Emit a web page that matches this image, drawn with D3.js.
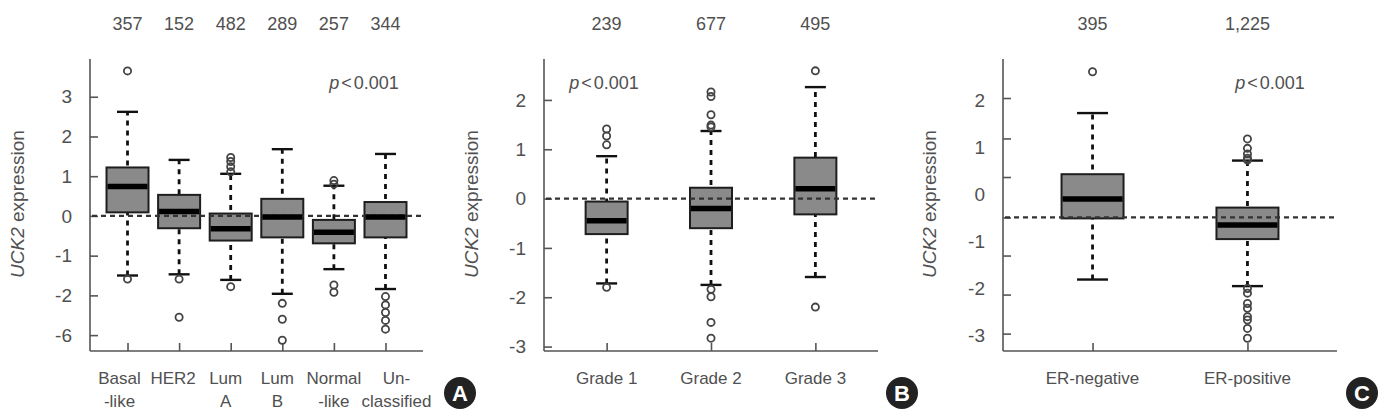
<!DOCTYPE html>
<html>
<head>
<meta charset="utf-8">
<script src="https://cdn.jsdelivr.net/npm/d3@7"></script>
<style>
  body { margin: 0; background: #fff; }
  text { font-family: "Liberation Sans", Arial, sans-serif; fill: #505050; }
</style>
</head>
<body>
<div id="chart"></div>
<script>
// panel A: PAM50 subtypes
var groupsA = [["Basal", "-like"], ["HER2"], ["Lum", "A"], ["Lum", "B"], ["Normal", "-like"], ["Un-", "classified"]];
var countsA = ["357", "152", "482", "289", "257", "344"];
// [low whisker, q1, median, q3, high whisker]
var statsA = [
  [-1.50, 0.09, 0.74, 1.22, 2.62],
  [-1.47, -0.31, 0.11, 0.53, 1.41],
  [-1.61, -0.62, -0.32, 0.06, 1.06],
  [-1.96, -0.54, -0.03, 0.43, 1.68],
  [-1.34, -0.69, -0.41, -0.10, 0.76],
  [-1.84, -0.54, -0.03, 0.35, 1.56]
];
var outliersA = [
  [3.65, -1.59],
  [-1.59, -2.55],
  [1.47, 1.37, 1.24, 1.11, -1.78],
  [-2.20, -2.60, -3.13],
  [0.89, 0.80, -1.74, -1.92],
  [-2.03, -2.24, -2.43, -2.63, -2.85]
];
var yTicksA = [3, 2, 1, 0, -1, -2, -3];
var yLabelsA = ["3", "2", "1", "0", "-1", "-2", "-6"];

// panel B: histological grade
var groupsB = [["Grade 1"], ["Grade 2"], ["Grade 3"]];
var countsB = ["239", "677", "495"];
var statsB = [
  [-1.72, -0.72, -0.45, -0.06, 0.86],
  [-1.75, -0.60, -0.20, 0.22, 1.37],
  [-1.59, -0.32, 0.20, 0.83, 2.26]
];
var outliersB = [
  [1.41, 1.27, 1.09, -1.80],
  [2.16, 2.07, 1.70, 1.49, 1.45, -1.84, -1.99, -2.51, -2.83],
  [2.59, -2.20]
];
var yTicksB = [2, 1, 0, -1, -2, -3];
var yLabelsB = ["2", "1", "0", "-1", "-2", "-3"];

// panel C: ER status
var groupsC = [["ER-negative"], ["ER-positive"]];
var countsC = ["395", "1,225"];
var statsC = [
  [-1.82, -0.52, -0.11, 0.42, 1.72],
  [-1.96, -0.96, -0.66, -0.29, 0.71]
];
var outliersC = [
  [2.60],
  [1.17, 0.97, 0.85, 0.76, 0.72, -2.01, -2.11, -2.33, -2.43, -2.61, -2.68, -2.86, -3.07]
];
var yTicksC = [2, 1, 0, -1, -2, -3];
var yLabelsC = ["2", "1", "0", "-1", "-2", "-3"];
var yMarksC = [2.04, 1.18, 0.36, -0.5, -1.31, -2.14, -2.97];

var svg = d3.select("#chart")
  .append("svg")
    .attr("width", 1381)
    .attr("height", 414);

function drawPanel(p) {
  var g = svg.append("g");

  var x = d3.scalePoint()
    .domain(d3.range(p.groups.length))
    .range([p.left, p.right])
    .padding(p.pad);

  var y = d3.scaleLinear()
    .domain(p.ydomain)
    .range([351, 59]);

  var boxW = p.boxW, capW = p.boxW * 0.5;

  // y axis: labels
  var yAxis = g.append("g")
    .attr("transform", "translate(" + p.left + ",0)")
    .call(d3.axisLeft(y)
      .tickValues(p.yticks)
      .tickFormat(function(d, i) { return p.ylabels[i]; })
      .tickSize(p.ymarks ? 0 : -8)
      .tickPadding(18));
  yAxis.selectAll("text").style("font-size", "19px").attr("font-family", null);

  // separate tick marks if they differ from labels
  if (p.ymarks) {
    g.append("g")
      .attr("transform", "translate(" + p.left + ",0)")
      .call(d3.axisLeft(y).tickValues(p.ymarks).tickFormat("").tickSize(-8))
      .select(".domain").remove();
  }

  var xAxis = g.append("g")
    .attr("transform", "translate(0,351)")
    .call(d3.axisBottom(x).tickFormat("").tickSize(-8).tickSizeOuter(0));

  g.selectAll(".domain").attr("stroke", "#555").attr("stroke-width", 1.6);
  g.selectAll(".tick line").attr("stroke", "#555").attr("stroke-width", 1.6);

  // extend y axis domain to the top, x axis domain to the left
  yAxis.select(".domain").attr("d", "M0," + 59 + "V351");
  xAxis.select(".domain").attr("d", "M" + p.left + ",0H" + p.right);

  // category labels
  p.groups.forEach(function(lines, i) {
    lines.forEach(function(s, j) {
      g.append("text")
        .attr("x", x(i) + (p.labelDx ? p.labelDx[i] : 0))
        .attr("y", 384 + j * 23)
        .attr("text-anchor", "middle")
        .style("font-size", "17px")
        .text(s);
    });
  });

  // counts on top
  g.selectAll(".count")
    .data(p.counts)
    .enter().append("text")
      .attr("x", function(d, i) { return x(i); })
      .attr("y", 30)
      .attr("text-anchor", "middle")
      .style("font-size", "18px")
      .text(function(d) { return d; });

  // whiskers
  p.stats.forEach(function(s, i) {
    var cx = x(i);
    g.append("line")
      .attr("x1", cx).attr("x2", cx)
      .attr("y1", y(s[0])).attr("y2", y(s[4]))
      .attr("stroke", "#111")
      .attr("stroke-width", 2.8)
      .attr("stroke-dasharray", "5,5");
    [s[0], s[4]].forEach(function(v) {
      g.append("line")
        .attr("x1", cx - capW / 2).attr("x2", cx + capW / 2)
        .attr("y1", y(v)).attr("y2", y(v))
        .attr("stroke", "#111")
        .attr("stroke-width", 2.4);
    });
  });

  // boxes
  g.selectAll(".box")
    .data(p.stats)
    .enter().append("rect")
      .attr("x", function(d, i) { return x(i) - boxW / 2; })
      .attr("y", function(d) { return y(d[3]); })
      .attr("width", boxW)
      .attr("height", function(d) { return y(d[1]) - y(d[3]); })
      .attr("fill", "#8a8a8a")
      .attr("stroke", "#1e1e1e")
      .attr("stroke-width", 2);

  // reference line
  g.append("line")
    .attr("x1", p.left + 2).attr("x2", p.right - 2)
    .attr("y1", y(p.ref)).attr("y2", y(p.ref))
    .attr("stroke", "#333")
    .attr("stroke-width", 2.2)
    .attr("stroke-dasharray", "5,4");

  // medians
  g.selectAll(".median")
    .data(p.stats)
    .enter().append("line")
      .attr("x1", function(d, i) { return x(i) - boxW / 2 + 1; })
      .attr("x2", function(d, i) { return x(i) + boxW / 2 - 1; })
      .attr("y1", function(d) { return y(d[2]); })
      .attr("y2", function(d) { return y(d[2]); })
      .attr("stroke", "#000")
      .attr("stroke-width", 5.5);

  // outliers
  p.outliers.forEach(function(arr, i) {
    g.selectAll(null)
      .data(arr)
      .enter().append("circle")
        .attr("cx", x(i))
        .attr("cy", function(d) { return y(d); })
        .attr("r", 3.6)
        .attr("fill", "none")
        .attr("stroke", "#444")
        .attr("stroke-width", 1.8);
  });

  // p value
  var pt = g.append("text")
    .attr("x", p.px)
    .attr("y", 89)
    .attr("text-anchor", "middle")
    .style("font-size", "18px");
  pt.append("tspan").style("font-style", "italic").text("p");
  pt.append("tspan").attr("dx", 2).text("<");
  pt.append("tspan").attr("dx", 2).text("0.001");

  // y label
  var yl = g.append("text")
    .attr("transform", "translate(" + p.ylabX + ",204) rotate(-90)")
    .attr("text-anchor", "middle")
    .style("font-size", "19px");
  yl.append("tspan").style("font-style", "italic").text("UCK2");
  yl.append("tspan").text(" expression");

  // panel badge
  svg.append("circle")
    .attr("cx", p.badgeX).attr("cy", 393).attr("r", 16)
    .attr("fill", "#222");
  svg.append("text")
    .attr("x", p.badgeX).attr("y", 401)
    .attr("text-anchor", "middle")
    .style("font-size", "22px")
    .style("font-weight", "bold")
    .style("fill", "#fff")
    .text(p.badge);
}

drawPanel({
  groups: groupsA, counts: countsA, stats: statsA, outliers: outliersA,
  yticks: yTicksA, ylabels: yLabelsA, ydomain: [-3.4, 3.95],
  left: 90, right: 423, pad: 0.727, boxW: 42, ref: 0,
  labelDx: [-8, -6, -5, -5, 0, 11],
  px: 364, ylabX: 24, badgeX: 460, badge: "A"
});

drawPanel({
  groups: groupsB, counts: countsB, stats: statsB, outliers: outliersB,
  yticks: yTicksB, ylabels: yLabelsB, ydomain: [-3.09, 2.83],
  left: 544, right: 878, pad: 0.6, boxW: 42, ref: 0,
  px: 604, ylabX: 478, badgeX: 902, badge: "B"
});

drawPanel({
  groups: groupsC, counts: countsC, stats: statsC, outliers: outliersC,
  yticks: yTicksC, ylabels: yLabelsC, ymarks: yMarksC, ydomain: [-3.34, 2.87],
  left: 1003, right: 1337, pad: 0.578, boxW: 62, ref: -0.5,
  px: 1270, ylabX: 936, badgeX: 1362, badge: "C"
});
</script>
</body>
</html>
